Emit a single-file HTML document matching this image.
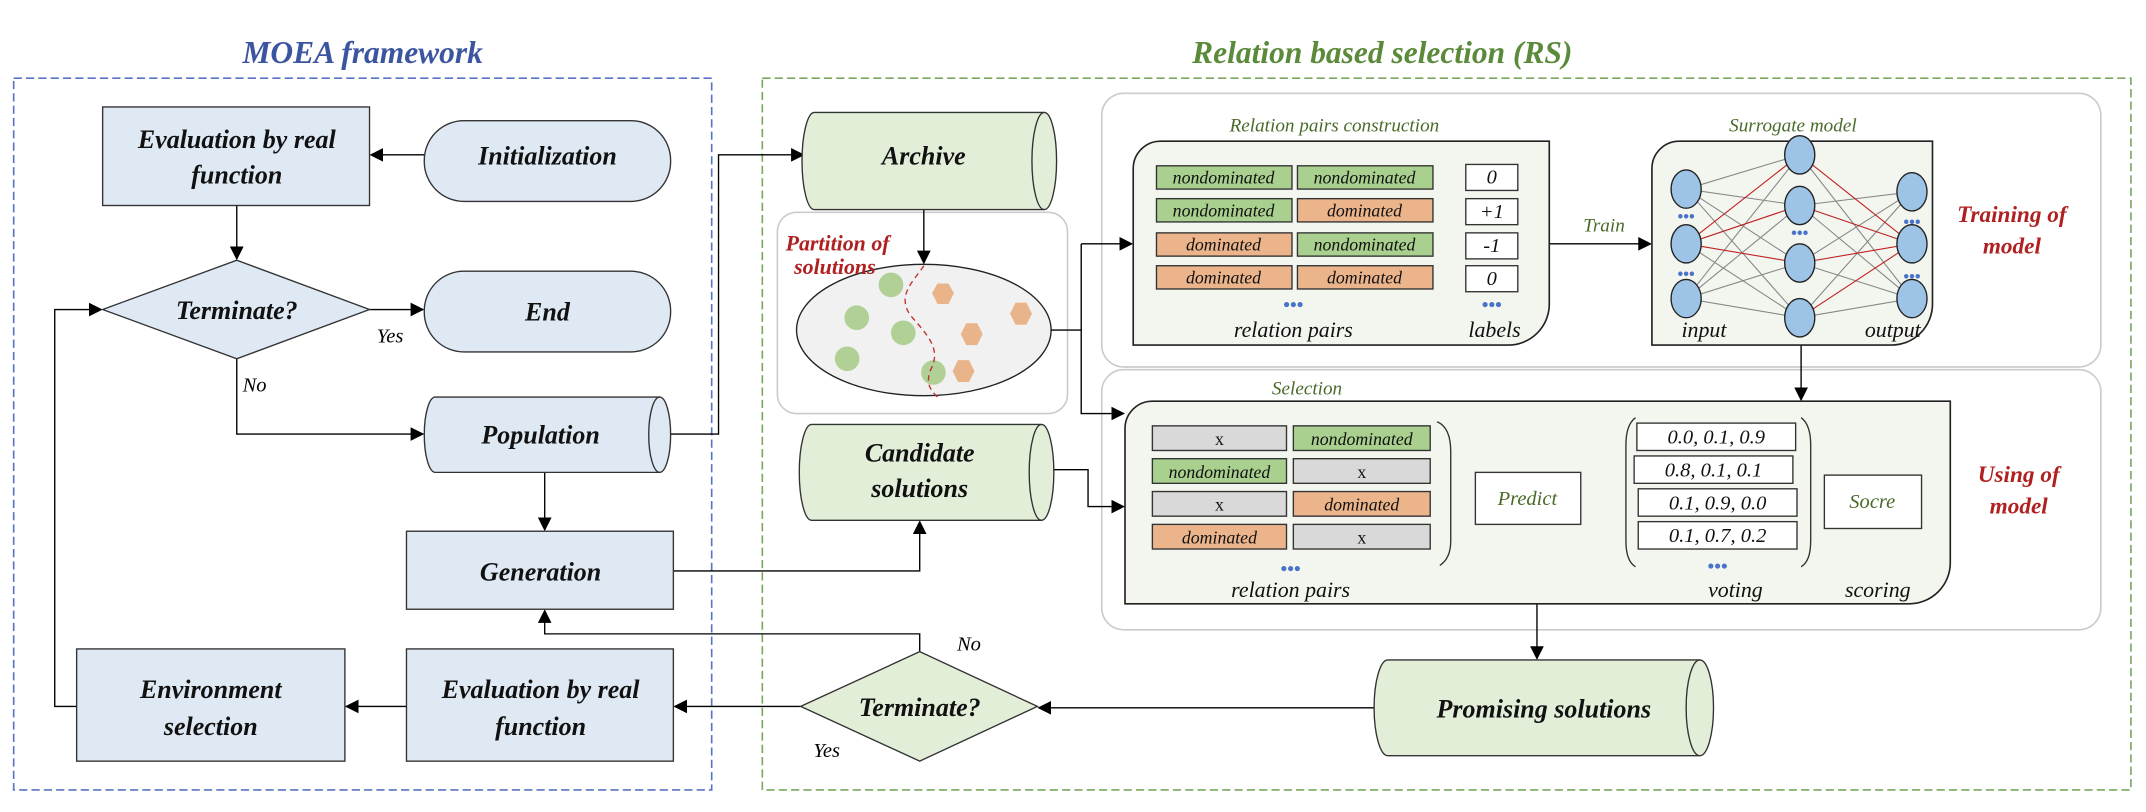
<!DOCTYPE html>
<html><head><meta charset="utf-8"><style>
html,body{margin:0;padding:0;background:#fff;}
svg{display:block;}
text{font-family:"Liberation Serif",serif;font-style:italic;}
.b{font-weight:bold;font-size:19px;fill:#111;}
.s{font-size:13px;fill:#111;}
.g{font-size:14px;fill:#4a6a2a;}
.r{font-weight:bold;font-size:17px;fill:#b02020;}
</style></head><body>
<svg width="2146" height="812" viewBox="0 0 1568 593" xmlns="http://www.w3.org/2000/svg">
<defs>
<marker id="a" markerWidth="10" markerHeight="10" refX="9" refY="5" orient="auto" markerUnits="userSpaceOnUse"><path d="M0,0 L10,5 L0,10 Z" fill="#000"/></marker>
</defs>
<text x="265" y="46" text-anchor="middle" style="font-weight:bold;font-size:23px;fill:#3c55a0">MOEA framework</text>
<text x="1010" y="46" text-anchor="middle" style="font-weight:bold;font-size:23px;fill:#5a8a3a">Relation based selection (RS)</text>
<rect x="10" y="57" width="510" height="520" fill="none" stroke="#5a74c4" stroke-width="1.2" stroke-dasharray="6,3"/>
<rect x="557" y="57" width="1000" height="520" fill="none" stroke="#7aa860" stroke-width="1.2" stroke-dasharray="6,3"/>
<rect x="805" y="68" width="730" height="200" rx="16" fill="#fff" stroke="#ccc" stroke-width="1.2"/>
<rect x="805" y="270" width="730" height="190" rx="16" fill="#fff" stroke="#ccc" stroke-width="1.2"/>
<rect x="568" y="155" width="212" height="147" rx="14" fill="#fff" stroke="#ccc" stroke-width="1.2"/>

<ellipse cx="675" cy="241" rx="93" ry="48" fill="#f1f1f1" stroke="#222" stroke-width="1"/>
<g fill="#b0d095">
<circle cx="651" cy="208" r="9"/><circle cx="626" cy="232" r="9"/><circle cx="660" cy="243" r="9"/><circle cx="619" cy="262" r="9"/><circle cx="682" cy="272" r="9"/>
</g>
<g fill="#e9b48a">
<polygon points="685,207 693,207 697,214 693,222 685,222 681,214"/>
<polygon points="742,221 750,221 754,229 750,237 742,237 738,229"/>
<polygon points="706,236 714,236 718,244 714,252 706,252 702,244"/>
<polygon points="700,263 708,263 712,271 708,279 700,279 696,271"/>
</g>
<path d="M675,194 C668,205 655,215 665,230 C678,245 688,255 680,270 C676,280 680,285 685,290" fill="none" stroke="#c03030" stroke-width="1" stroke-dasharray="4,3"/>

<g stroke="#000" stroke-width="1" fill="none">
<line x1="310" y1="113" x2="271" y2="113" marker-end="url(#a)"/>
<line x1="173" y1="150" x2="173" y2="189" marker-end="url(#a)"/>
<line x1="270" y1="226" x2="309" y2="226" marker-end="url(#a)"/>
<polyline points="173,262 173,317 309,317" marker-end="url(#a)"/>
<line x1="398" y1="345" x2="398" y2="387" marker-end="url(#a)"/>
<polyline points="490,317 525,317 525,113 587,113" marker-end="url(#a)"/>
<line x1="675" y1="153" x2="675" y2="192" marker-end="url(#a)"/>
<polyline points="492,417 672,417 672,381" marker-end="url(#a)"/>
<line x1="768" y1="241" x2="790" y2="241"/>
<polyline points="790,178 790,302 821,302" marker-end="url(#a)"/>
<line x1="790" y1="178" x2="827" y2="178" marker-end="url(#a)"/>
<polyline points="770,343 795,343 795,370 821,370" marker-end="url(#a)"/>
<line x1="1132" y1="178" x2="1206" y2="178" marker-end="url(#a)"/>
<line x1="1316" y1="252" x2="1316" y2="292" marker-end="url(#a)"/>
<line x1="1123" y1="441" x2="1123" y2="481" marker-end="url(#a)"/>
<line x1="1005" y1="517" x2="759" y2="517" marker-end="url(#a)"/>
<line x1="585" y1="516" x2="493" y2="516" marker-end="url(#a)"/>
<polyline points="672,476 672,463 398,463 398,446" marker-end="url(#a)"/>
<line x1="297" y1="516" x2="253" y2="516" marker-end="url(#a)"/>
<polyline points="56,516 40,516 40,226 74,226" marker-end="url(#a)"/>
<line x1="1057" y1="364" x2="1077" y2="364" marker-end="url(#a)"/>
<line x1="1155" y1="364" x2="1187" y2="364" marker-end="url(#a)"/>
<line x1="1322" y1="366" x2="1333" y2="366"/>
</g>

<g stroke="#333" stroke-width="1" fill="#dfe9f4">
<rect x="75" y="78" width="195" height="72"/>
<rect x="310" y="88" width="180" height="59" rx="29"/>
<polygon points="75,226 173,190 270,226 173,262"/>
<rect x="310" y="198" width="180" height="59" rx="29"/>
<path d="M318,290 H482 A8,27.5 0 0 1 482,345 H318 A8,27.5 0 0 1 318,290 Z"/>
<path d="M482,290 A8,27.5 0 0 0 482,345" fill="none"/>
<rect x="297" y="388" width="195" height="57"/>
<rect x="56" y="474" width="196" height="82"/>
<rect x="297" y="474" width="195" height="82"/>
</g>
<g stroke="#333" stroke-width="1" fill="#e3eed9">
<polygon points="585,516 672,476 758,516 672,556"/>
<path d="M595,82 H763 A9,35.5 0 0 1 763,153 H595 A9,35.5 0 0 1 595,82 Z"/>
<path d="M763,82 A9,35.5 0 0 0 763,153" fill="none"/>
<path d="M593,310 H761 A9,35 0 0 1 761,380 H593 A9,35 0 0 1 593,310 Z"/>
<path d="M761,310 A9,35 0 0 0 761,380" fill="none"/>
<path d="M1014,482 H1242 A10,35 0 0 1 1242,552 H1014 A10,35 0 0 1 1014,482 Z"/>
<path d="M1242,482 A10,35 0 0 0 1242,552" fill="none"/>
</g>

<path d="M848,103 H1132 V222 A30,30 0 0 1 1102,252 H828 V123 A20,20 0 0 1 848,103 Z" fill="#f3f6ef" stroke="#222" stroke-width="1.2"/>
<path d="M1227,103 H1412 V222 A30,30 0 0 1 1382,252 H1207 V123 A20,20 0 0 1 1227,103 Z" fill="#f3f6ef" stroke="#222" stroke-width="1.2"/>
<path d="M842,293 H1425 V411 A30,30 0 0 1 1395,441 H822 V313 A20,20 0 0 1 842,293 Z" fill="#f3f6ef" stroke="#222" stroke-width="1.2"/>

<g stroke="#333" stroke-width="1">
<rect x="845" y="121" width="99" height="17" fill="#a9d08e"/><rect x="948" y="121" width="99" height="17" fill="#a9d08e"/>
<rect x="845" y="145" width="99" height="17" fill="#a9d08e"/><rect x="948" y="145" width="99" height="17" fill="#ebb48b"/>
<rect x="845" y="170" width="99" height="17" fill="#ebb48b"/><rect x="948" y="170" width="99" height="17" fill="#a9d08e"/>
<rect x="845" y="194" width="99" height="17" fill="#ebb48b"/><rect x="948" y="194" width="99" height="17" fill="#ebb48b"/>
<rect x="1071" y="120" width="38" height="19" fill="#fff"/><rect x="1071" y="145" width="38" height="19" fill="#fff"/>
<rect x="1071" y="170" width="38" height="19" fill="#fff"/><rect x="1071" y="194" width="38" height="19" fill="#fff"/>
<rect x="842" y="311" width="98" height="18" fill="#d9d9d9"/><rect x="945" y="311" width="100" height="18" fill="#a9d08e"/>
<rect x="842" y="335" width="98" height="18" fill="#a9d08e"/><rect x="945" y="335" width="100" height="18" fill="#d9d9d9"/>
<rect x="842" y="359" width="98" height="18" fill="#d9d9d9"/><rect x="945" y="359" width="100" height="18" fill="#ebb48b"/>
<rect x="842" y="383" width="98" height="18" fill="#ebb48b"/><rect x="945" y="383" width="100" height="18" fill="#d9d9d9"/>
<rect x="1078" y="345" width="77" height="38" fill="#fff"/>
<rect x="1196" y="309" width="116" height="20" fill="#fff"/><rect x="1194" y="333" width="116" height="20" fill="#fff"/>
<rect x="1197" y="357" width="116" height="20" fill="#fff"/><rect x="1197" y="381" width="116" height="20" fill="#fff"/>
<rect x="1333" y="347" width="71" height="39" fill="#fff"/>
</g>
<g fill="none" stroke="#333" stroke-width="1">
<path d="M1050,308 Q1060,312 1060,330 V395 Q1060,408 1052,413"/>
<path d="M1195,305 Q1188,310 1188,325 V395 Q1188,410 1195,414"/>
<path d="M1316,305 Q1323,310 1323,325 V395 Q1323,410 1316,414"/>
</g>
<g stroke="#888" stroke-width="0.8">
<path d="M1232,138 L1315,113 M1232,138 L1315,150 M1232,138 L1315,192 M1232,138 L1315,232 M1232,218 L1315,113 M1232,218 L1315,150 M1232,218 L1315,192 M1232,218 L1315,232 M1232,178 L1315,232 M1315,113 L1397,218 M1315,150 L1397,140 M1315,150 L1397,218 M1315,192 L1397,140 M1315,192 L1397,218 M1315,232 L1397,140 M1315,232 L1397,218"/>
</g>
<g stroke="#c02020" stroke-width="0.8">
<path d="M1232,178 L1315,113 M1232,178 L1315,150 M1232,178 L1315,192 M1315,113 L1397,178 M1315,150 L1397,178 M1315,192 L1397,178 M1315,232 L1397,178"/>
</g>
<g fill="#9dc3e6" stroke="#222" stroke-width="1">
<ellipse cx="1232" cy="138" rx="11" ry="14"/><ellipse cx="1232" cy="178" rx="11" ry="14"/><ellipse cx="1232" cy="218" rx="11" ry="14"/>
<ellipse cx="1315" cy="113" rx="11" ry="14"/><ellipse cx="1315" cy="150" rx="11" ry="14"/><ellipse cx="1315" cy="192" rx="11" ry="14"/><ellipse cx="1315" cy="232" rx="11" ry="14"/>
<ellipse cx="1397" cy="140" rx="11" ry="14"/><ellipse cx="1397" cy="178" rx="11" ry="14"/><ellipse cx="1397" cy="218" rx="11" ry="14"/>
</g>
<g>
<text x="1232" y="162" text-anchor="middle" style="font-size:12px;font-style:normal;font-weight:bold;fill:#4a72c8">•••</text>
<text x="1232" y="204" text-anchor="middle" style="font-size:12px;font-style:normal;font-weight:bold;fill:#4a72c8">•••</text>
<text x="1315" y="174" text-anchor="middle" style="font-size:12px;font-style:normal;font-weight:bold;fill:#4a72c8">•••</text>
<text x="1397" y="166" text-anchor="middle" style="font-size:12px;font-style:normal;font-weight:bold;fill:#4a72c8">•••</text>
<text x="1397" y="206" text-anchor="middle" style="font-size:12px;font-style:normal;font-weight:bold;fill:#4a72c8">•••</text>
<text x="945" y="227" text-anchor="middle" style="font-size:14px;font-style:normal;font-weight:bold;fill:#4a72c8">•••</text>
<text x="1090" y="227" text-anchor="middle" style="font-size:14px;font-style:normal;font-weight:bold;fill:#4a72c8">•••</text>
<text x="943" y="420" text-anchor="middle" style="font-size:14px;font-style:normal;font-weight:bold;fill:#4a72c8">•••</text>
<text x="1255" y="418" text-anchor="middle" style="font-size:14px;font-style:normal;font-weight:bold;fill:#4a72c8">•••</text>
</g>

<g text-anchor="middle">
<text class="b" x="173" y="108">Evaluation by real</text>
<text class="b" x="173" y="134">function</text>
<text class="b" x="400" y="120">Initialization</text>
<text class="b" x="173" y="233">Terminate?</text>
<text class="b" x="400" y="234">End</text>
<text class="b" x="395" y="324">Population</text>
<text class="b" x="395" y="424">Generation</text>
<text class="b" x="154" y="510">Environment</text>
<text class="b" x="154" y="537">selection</text>
<text class="b" x="395" y="510">Evaluation by real</text>
<text class="b" x="395" y="537">function</text>
<text class="b" x="672" y="523">Terminate?</text>
<text class="b" x="675" y="120">Archive</text>
<text class="b" x="672" y="337">Candidate</text>
<text class="b" x="672" y="363">solutions</text>
<text class="b" x="1128" y="524">Promising solutions</text>
</g>
<g text-anchor="middle">
<text x="285" y="250" style="font-size:15px">Yes</text>
<text x="186" y="286" style="font-size:15px">No</text>
<text x="708" y="475" style="font-size:15px">No</text>
<text x="604" y="553" style="font-size:15px">Yes</text>
</g>
<text class="r" x="612" y="183" text-anchor="middle" style="font-size:16px">Partition of</text>
<text class="r" x="610" y="200" text-anchor="middle" style="font-size:16px">solutions</text>
<text class="r" x="1470" y="162" text-anchor="middle">Training of</text>
<text class="r" x="1470" y="185" text-anchor="middle">model</text>
<text class="r" x="1475" y="352" text-anchor="middle">Using of</text>
<text class="r" x="1475" y="375" text-anchor="middle">model</text>
<text class="g" x="975" y="96" text-anchor="middle">Relation pairs construction</text>
<text class="g" x="1310" y="96" text-anchor="middle">Surrogate model</text>
<text class="g" x="1172" y="169" text-anchor="middle">Train</text>
<text class="g" x="955" y="288" text-anchor="middle">Selection</text>
<text class="g" x="1116" y="369" text-anchor="middle" style="font-size:15px">Predict</text>
<text class="g" x="1368" y="371" text-anchor="middle" style="font-size:15px">Socre</text>
<g text-anchor="middle">
<text class="s" x="894" y="134">nondominated</text><text class="s" x="997" y="134">nondominated</text>
<text class="s" x="894" y="158">nondominated</text><text class="s" x="997" y="158">dominated</text>
<text class="s" x="894" y="183">dominated</text><text class="s" x="997" y="183">nondominated</text>
<text class="s" x="894" y="207">dominated</text><text class="s" x="997" y="207">dominated</text>
<text class="s" x="1090" y="134" style="font-size:15px">0</text><text class="s" x="1090" y="159" style="font-size:15px">+1</text>
<text class="s" x="1090" y="184" style="font-size:15px">-1</text><text class="s" x="1090" y="208" style="font-size:15px">0</text>
<text class="s" x="891" y="325" style="font-style:normal">x</text><text class="s" x="995" y="325">nondominated</text>
<text class="s" x="891" y="349">nondominated</text><text class="s" x="995" y="349" style="font-style:normal">x</text>
<text class="s" x="891" y="373" style="font-style:normal">x</text><text class="s" x="995" y="373">dominated</text>
<text class="s" x="891" y="397">dominated</text><text class="s" x="995" y="397" style="font-style:normal">x</text>
<text class="s" x="1254" y="324" style="font-size:15px">0.0, 0.1, 0.9</text>
<text class="s" x="1252" y="348" style="font-size:15px">0.8, 0.1, 0.1</text>
<text class="s" x="1255" y="372" style="font-size:15px">0.1, 0.9, 0.0</text>
<text class="s" x="1255" y="396" style="font-size:15px">0.1, 0.7, 0.2</text>
<text class="s" x="945" y="246" style="font-size:16px">relation pairs</text>
<text class="s" x="1092" y="246" style="font-size:16px">labels</text>
<text class="s" x="1245" y="246" style="font-size:16px">input</text>
<text class="s" x="1383" y="246" style="font-size:16px">output</text>
<text class="s" x="943" y="436" style="font-size:16px">relation pairs</text>
<text class="s" x="1268" y="436" style="font-size:16px">voting</text>
<text class="s" x="1372" y="436" style="font-size:16px">scoring</text>
</g>
</svg>
</body></html>
